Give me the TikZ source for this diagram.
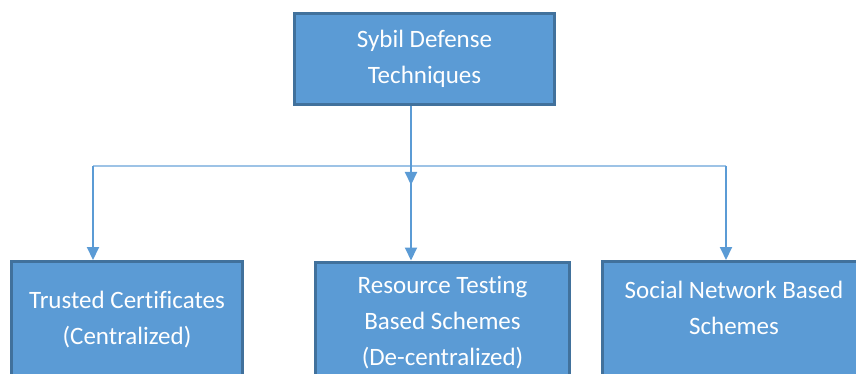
\documentclass[tikz,border=0pt]{standalone}
\usepackage{fontspec}
\setmainfont{Carlito}[Ligatures=CommonOff]
\usetikzlibrary{arrows.meta}
\tikzset{>={Triangle[length=13pt,width=12pt]}}
\definecolor{boxblue}{HTML}{5B9BD5}
\definecolor{boxedge}{HTML}{41719C}
\definecolor{barblue}{HTML}{9DC3E6}
\tikzset{box/.style={draw=boxedge, line width=3pt, fill=boxblue, text=white, align=center, inner sep=0pt, font=\fontsize{25}{36}\selectfont},
         link/.style={draw=boxblue, line width=2pt},
         bar/.style={draw=barblue, line width=2pt}}

\begin{document}
\begin{tikzpicture}[x=1pt,y=-1pt]
    \clip (0,0) rectangle (856,374);
    \node[box, minimum width=260pt, minimum height=91pt] (top) at (424.5,59) {Sybil Defense\\Techniques};
    \node[box, minimum width=231pt, minimum height=117pt] (left) at (127,320) {Trusted Certificates\\(Centralized)};
    \node[box, minimum width=254pt, minimum height=122pt] (mid) at (442.5,323) {Resource Testing\\Based Schemes\\(De-centralized)};
    \node[box, minimum width=263pt, minimum height=129pt] (right) at (734,326) {Social Network Based\\Schemes\\\mbox{}};
    \coordinate (split) at (411,166);
    \coordinate (drop) at (411,185);
    \coordinate (barL) at (93,166);
    \coordinate (barR) at (726,166);
    \draw[bar] (barL) -- (barR);
    \draw[link,->] (top.south -| split) -- (drop);
    \draw[link,->] (split) -- (mid.north -| split);
    \draw[link,->] (barL) -- (left.north -| barL);
    \draw[link,->] (barR) -- (right.north -| barR);
\end{tikzpicture}
\end{document}
